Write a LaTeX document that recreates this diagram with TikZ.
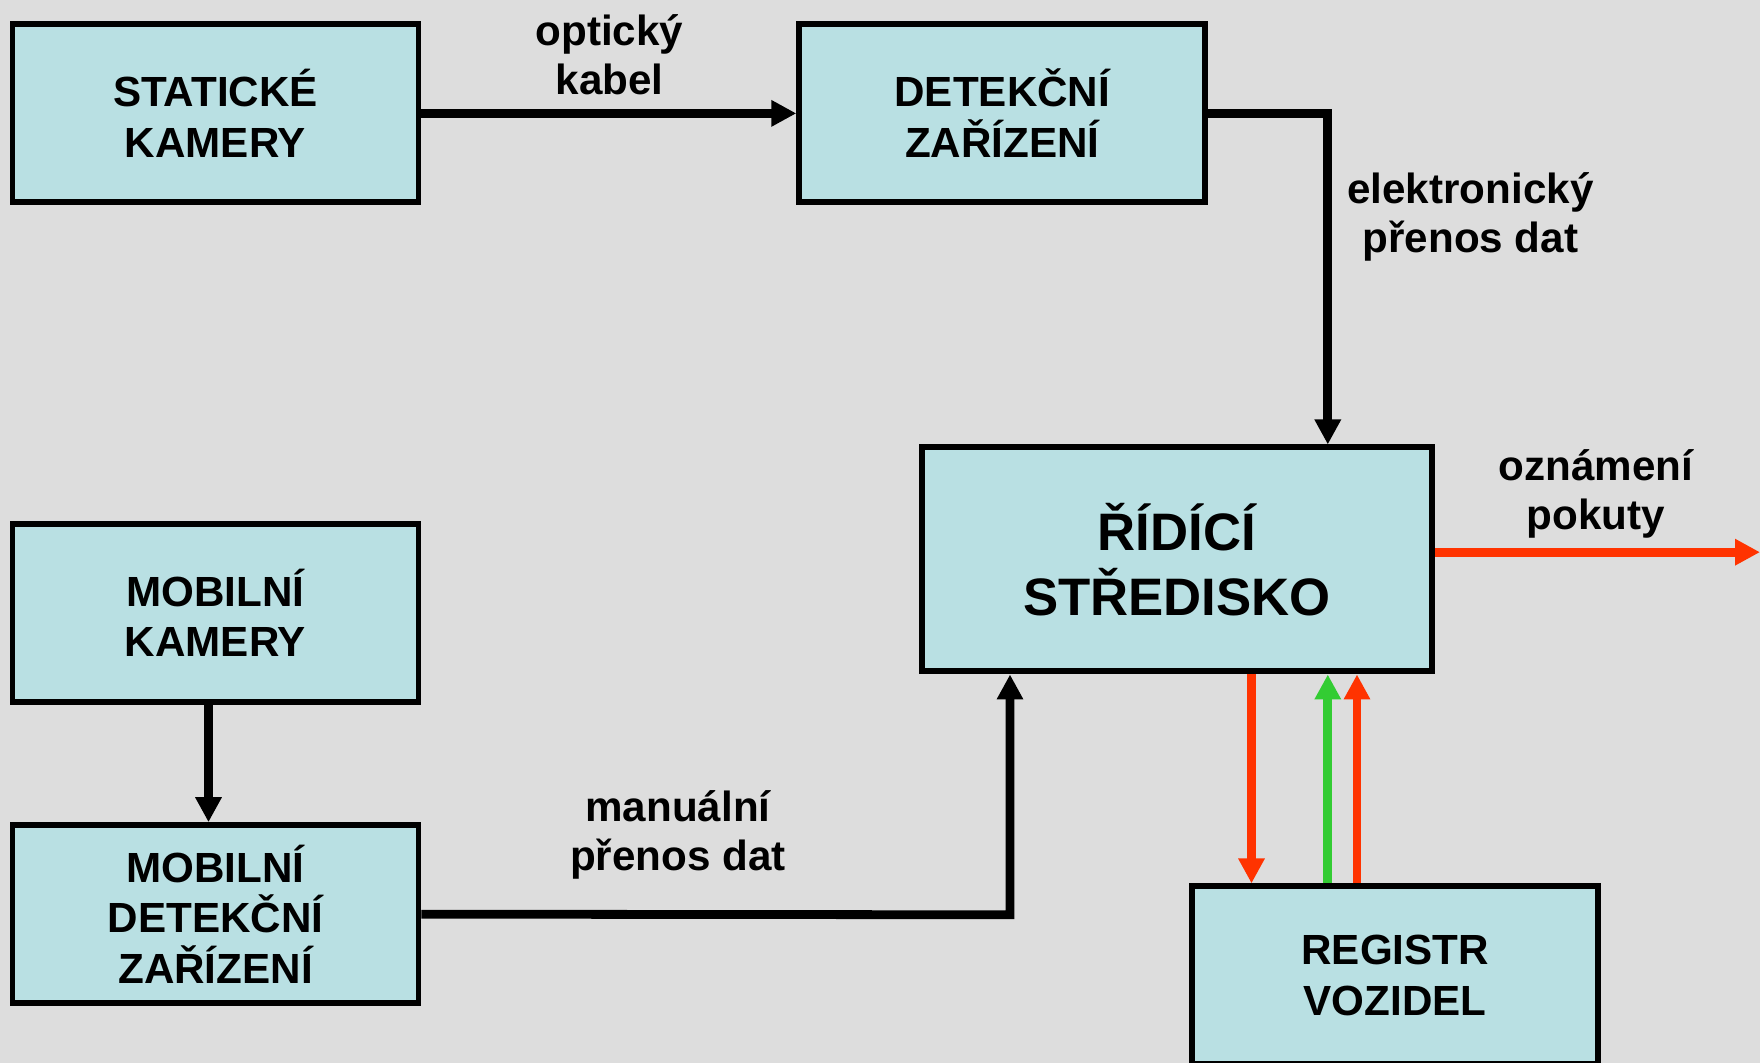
\documentclass[tikz,border=0pt]{standalone}
\usepackage{fontspec}
\setmainfont{Liberation Sans}
\usepackage{tikz}
\usetikzlibrary{arrows.meta}
\definecolor{bggray}{HTML}{DDDDDD}
\definecolor{boxcyan}{HTML}{B9E0E3}
\definecolor{tipred}{HTML}{FF3300}
\definecolor{okgreen}{HTML}{33CC33}

\begin{document}
\begin{tikzpicture}[
    box/.style={draw=black,line width=1.7pt,fill=boxcyan,minimum width=4.06cm,minimum height=1.78cm,inner sep=0pt,align=center,font=\fontsize{12}{14.4}\selectfont\bfseries},
    lbl/.style={align=center,inner sep=0pt,font=\fontsize{12}{14}\selectfont\bfseries},
    link/.style={line width=2.5pt,-{Triangle[length=0.25cm,width=0.25cm]}}]
\path[use as bounding box,fill=bggray] (0,0) rectangle (17.6,10.63);
% boxes
\node[box] (sk) at (2.155,9.496) {STATICKÉ\\KAMERY};
\node[box] (dz) at (10.023,9.496) {DETEKČNÍ\\ZAŘÍZENÍ};
\node[box] (mk) at (2.155,4.502) {MOBILNÍ\\KAMERY};
\node[box] (mdz) at (2.155,1.488) {MOBILNÍ\\DETEKČNÍ\\ZAŘÍZENÍ};
\node[box] (rv) at (13.952,0.876) {REGISTR\\VOZIDEL};
\node[box,minimum width=5.1cm,minimum height=2.24cm,font=\fontsize{15}{18.5}\selectfont\bfseries] (rs) at (11.769,5.035) {ŘÍDÍCÍ\\STŘEDISKO};
% labels
\node[lbl] (optlbl) at (6.095,10.08) {optický\\kabel};
\node[lbl] (elelbl) at (14.704,8.464) {elektronický\\přenos dat};
\node[lbl] (ozlbl) at (15.96,5.691) {oznámení\\pokuty};
\node[lbl] (manlbl) at (6.78,2.28) {manuální\\přenos dat};
% helper points
\coordinate (ek) at (13.278,9.496);
\coordinate (mu) at (10.10,1.482);
\coordinate (out) at (17.6,5.108);
\coordinate (r1) at (12.515,0);
\coordinate (r2) at (13.278,0);
\coordinate (r3) at (13.57,0);
% black links
\draw[link] (sk) -- (dz);
\draw[link] (dz.east) -- (ek) -- (ek |- rs.north);
\draw[link] ([xshift=-0.07cm]mk.south) -- ([xshift=-0.07cm]mdz.north);
\draw[link] (mdz.east) -- (mu) -- (mu |- rs.south);
% coloured links
\draw[link,tipred] (rs.east |- out) -- (out);
\draw[link,tipred] (rs.south -| r1) -- (rv.north -| r1);
\draw[link,okgreen] (rv.north -| r2) -- (rs.south -| r2);
\draw[link,tipred] (rv.north -| r3) -- (rs.south -| r3);
\end{tikzpicture}
\end{document}
